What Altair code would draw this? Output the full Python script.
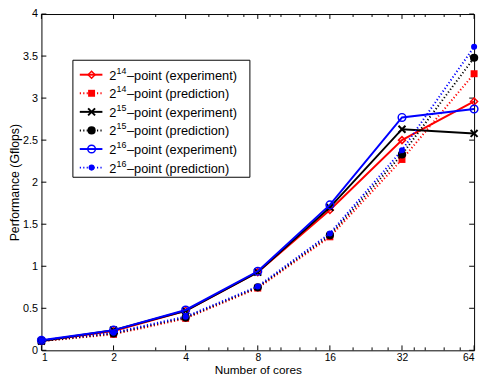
import altair as alt
import pandas as pd

# ---------------- data ----------------
cores = [1, 2, 4, 8, 16, 32, 64]
red_exp = [0.11, 0.23, 0.47, 0.93, 1.67, 2.50, 2.96]
red_pred = [0.11, 0.19, 0.38, 0.74, 1.35, 2.27, 3.29]
black_exp = [0.11, 0.24, 0.47, 0.93, 1.70, 2.63, 2.58]
black_pred = [0.11, 0.20, 0.39, 0.75, 1.37, 2.33, 3.48]
blue_exp = [0.12, 0.24, 0.48, 0.94, 1.73, 2.77, 2.87]
blue_pred = [0.12, 0.21, 0.40, 0.76, 1.39, 2.38, 3.61]

exponents = ["14", "14", "15", "15", "16", "16"]
kinds = ["experiment", "prediction", "experiment", "prediction", "experiment", "prediction"]

x_ticks = [1, 2, 4, 8, 16, 32, 64]
x_minor = [3, 5, 6, 7, 9, 10, 12, 14, 20, 24, 28, 36, 40, 48, 56]
y_ticks = [0, 0.5, 1, 1.5, 2, 2.5, 3, 3.5, 4]

x_title = "Number of cores"
y_title = "Performance (Gflops)"

# ---------------- styles ----------------
W, H = 440, 342
FONT = "Liberation Sans"
colors = ["#ff0000", "#ff0000", "#000000", "#000000", "#0000ff", "#0000ff"]
dashes = [None, [1.2, 2.3], None, [1.2, 2.3], None, [1.2, 2.3]]
shapes = ["diamond", "square", "M-1,-1L1,1M-1,1L1,-1", "circle", "circle", "circle"]
filled = [False, True, False, True, False, True]
sizes = [50, 50, 50, 70, 60, 38]
stroke_w = [1.5, 1, 2, 1, 1.5, 1]
series_vals = [red_exp, red_pred, black_exp, black_pred, blue_exp, blue_pred]

xscale = alt.Scale(type="log", base=2, domain=[1, 64], nice=False)
yscale = alt.Scale(domain=[0, 4], nice=False, zero=False)
X = alt.X("cores:Q", scale=xscale,
          axis=alt.Axis(values=x_ticks, format="d", title=x_title, titleY=24,
                        titleBaseline="alphabetic", labelPadding=2, labelFontSize=10.5))
Y = alt.Y("perf:Q", scale=yscale,
          axis=alt.Axis(values=y_ticks, format="~g", title=y_title, titleX=-27,
                        titleBaseline="middle", labelPadding=4, titleFontSize=12.5))

layers = []

# tick marks (inward, MATLAB style)
xt = alt.Chart(pd.DataFrame({"cores": x_ticks}))
xm = alt.Chart(pd.DataFrame({"cores": x_minor}))
yt = alt.Chart(pd.DataFrame({"perf": y_ticks}))
layers += [
    xt.mark_rule(color="black", strokeWidth=1).encode(x=X, y=alt.value(H), y2=alt.value(H - 5)),
    xt.mark_rule(color="black", strokeWidth=1).encode(x=X, y=alt.value(0), y2=alt.value(5)),
    xm.mark_rule(color="black", strokeWidth=1).encode(x=X, y=alt.value(H), y2=alt.value(H - 3)),
    xm.mark_rule(color="black", strokeWidth=1).encode(x=X, y=alt.value(0), y2=alt.value(3)),
    yt.mark_rule(color="black", strokeWidth=1).encode(y=Y, x=alt.value(0), x2=alt.value(5)),
    yt.mark_rule(color="black", strokeWidth=1).encode(y=Y, x=alt.value(W), x2=alt.value(W - 5)),
]

# data series
for i, vals in enumerate(series_vals):
    df = pd.DataFrame({"cores": cores, "perf": vals})
    base = alt.Chart(df)
    lkw = dict(color=colors[i], strokeWidth=2)
    if dashes[i]:
        lkw["strokeDash"] = dashes[i]
    layers.append(base.mark_line(**lkw).encode(x=X, y=Y))
    layers.append(base.mark_point(shape=shapes[i], filled=filled[i], color=colors[i],
                                  size=sizes[i], strokeWidth=stroke_w[i], opacity=1)
                  .encode(x=X, y=Y))

# legend (manual, to keep superscripts)
one = alt.Chart(pd.DataFrame({"k": [0]}))
layers.append(one.mark_rect(fill="white", stroke="black", strokeWidth=1).encode(
    x=alt.value(32), x2=alt.value(212), y=alt.value(47), y2=alt.value(166)))
for i in range(6):
    ry = 61.7 + 18.9 * i
    rkw = dict(color=colors[i], strokeWidth=2)
    if dashes[i]:
        rkw["strokeDash"] = dashes[i]
    layers.append(one.mark_rule(**rkw).encode(x=alt.value(39), x2=alt.value(62), y=alt.value(ry)))
    layers.append(one.mark_point(shape=shapes[i], filled=filled[i], color=colors[i],
                                 size=sizes[i], strokeWidth=stroke_w[i], opacity=1)
                  .encode(x=alt.value(51), y=alt.value(ry)))
    layers.append(one.mark_text(text="2", font=FONT, fontSize=13, align="left",
                                baseline="middle", color="black")
                  .encode(x=alt.value(69), y=alt.value(ry + 1)))
    layers.append(one.mark_text(text=exponents[i], font=FONT, fontSize=9, align="left",
                                baseline="middle", color="black")
                  .encode(x=alt.value(76.3), y=alt.value(ry - 4)))
    layers.append(one.mark_text(text="\u2013point (" + kinds[i] + ")", font=FONT, fontSize=13,
                                align="left", baseline="middle", color="black")
                  .encode(x=alt.value(87), y=alt.value(ry + 1)))

chart = alt.layer(*layers).properties(
    width=W, height=H,
    autosize=alt.AutoSizeParams(type="none"),
    padding={"left": 34, "top": 3, "right": 6, "bottom": 24},
).configure_view(
    stroke="black", strokeWidth=1
).configure_axis(
    grid=False, domain=False, ticks=False, tickSize=0,
    labelFont=FONT, labelFontSize=11, labelColor="black",
    titleFont=FONT, titleFontSize=12, titleColor="black", titleFontWeight="normal",
)

chart.save("out.html", embed_options={"renderer": "svg", "actions": False})
